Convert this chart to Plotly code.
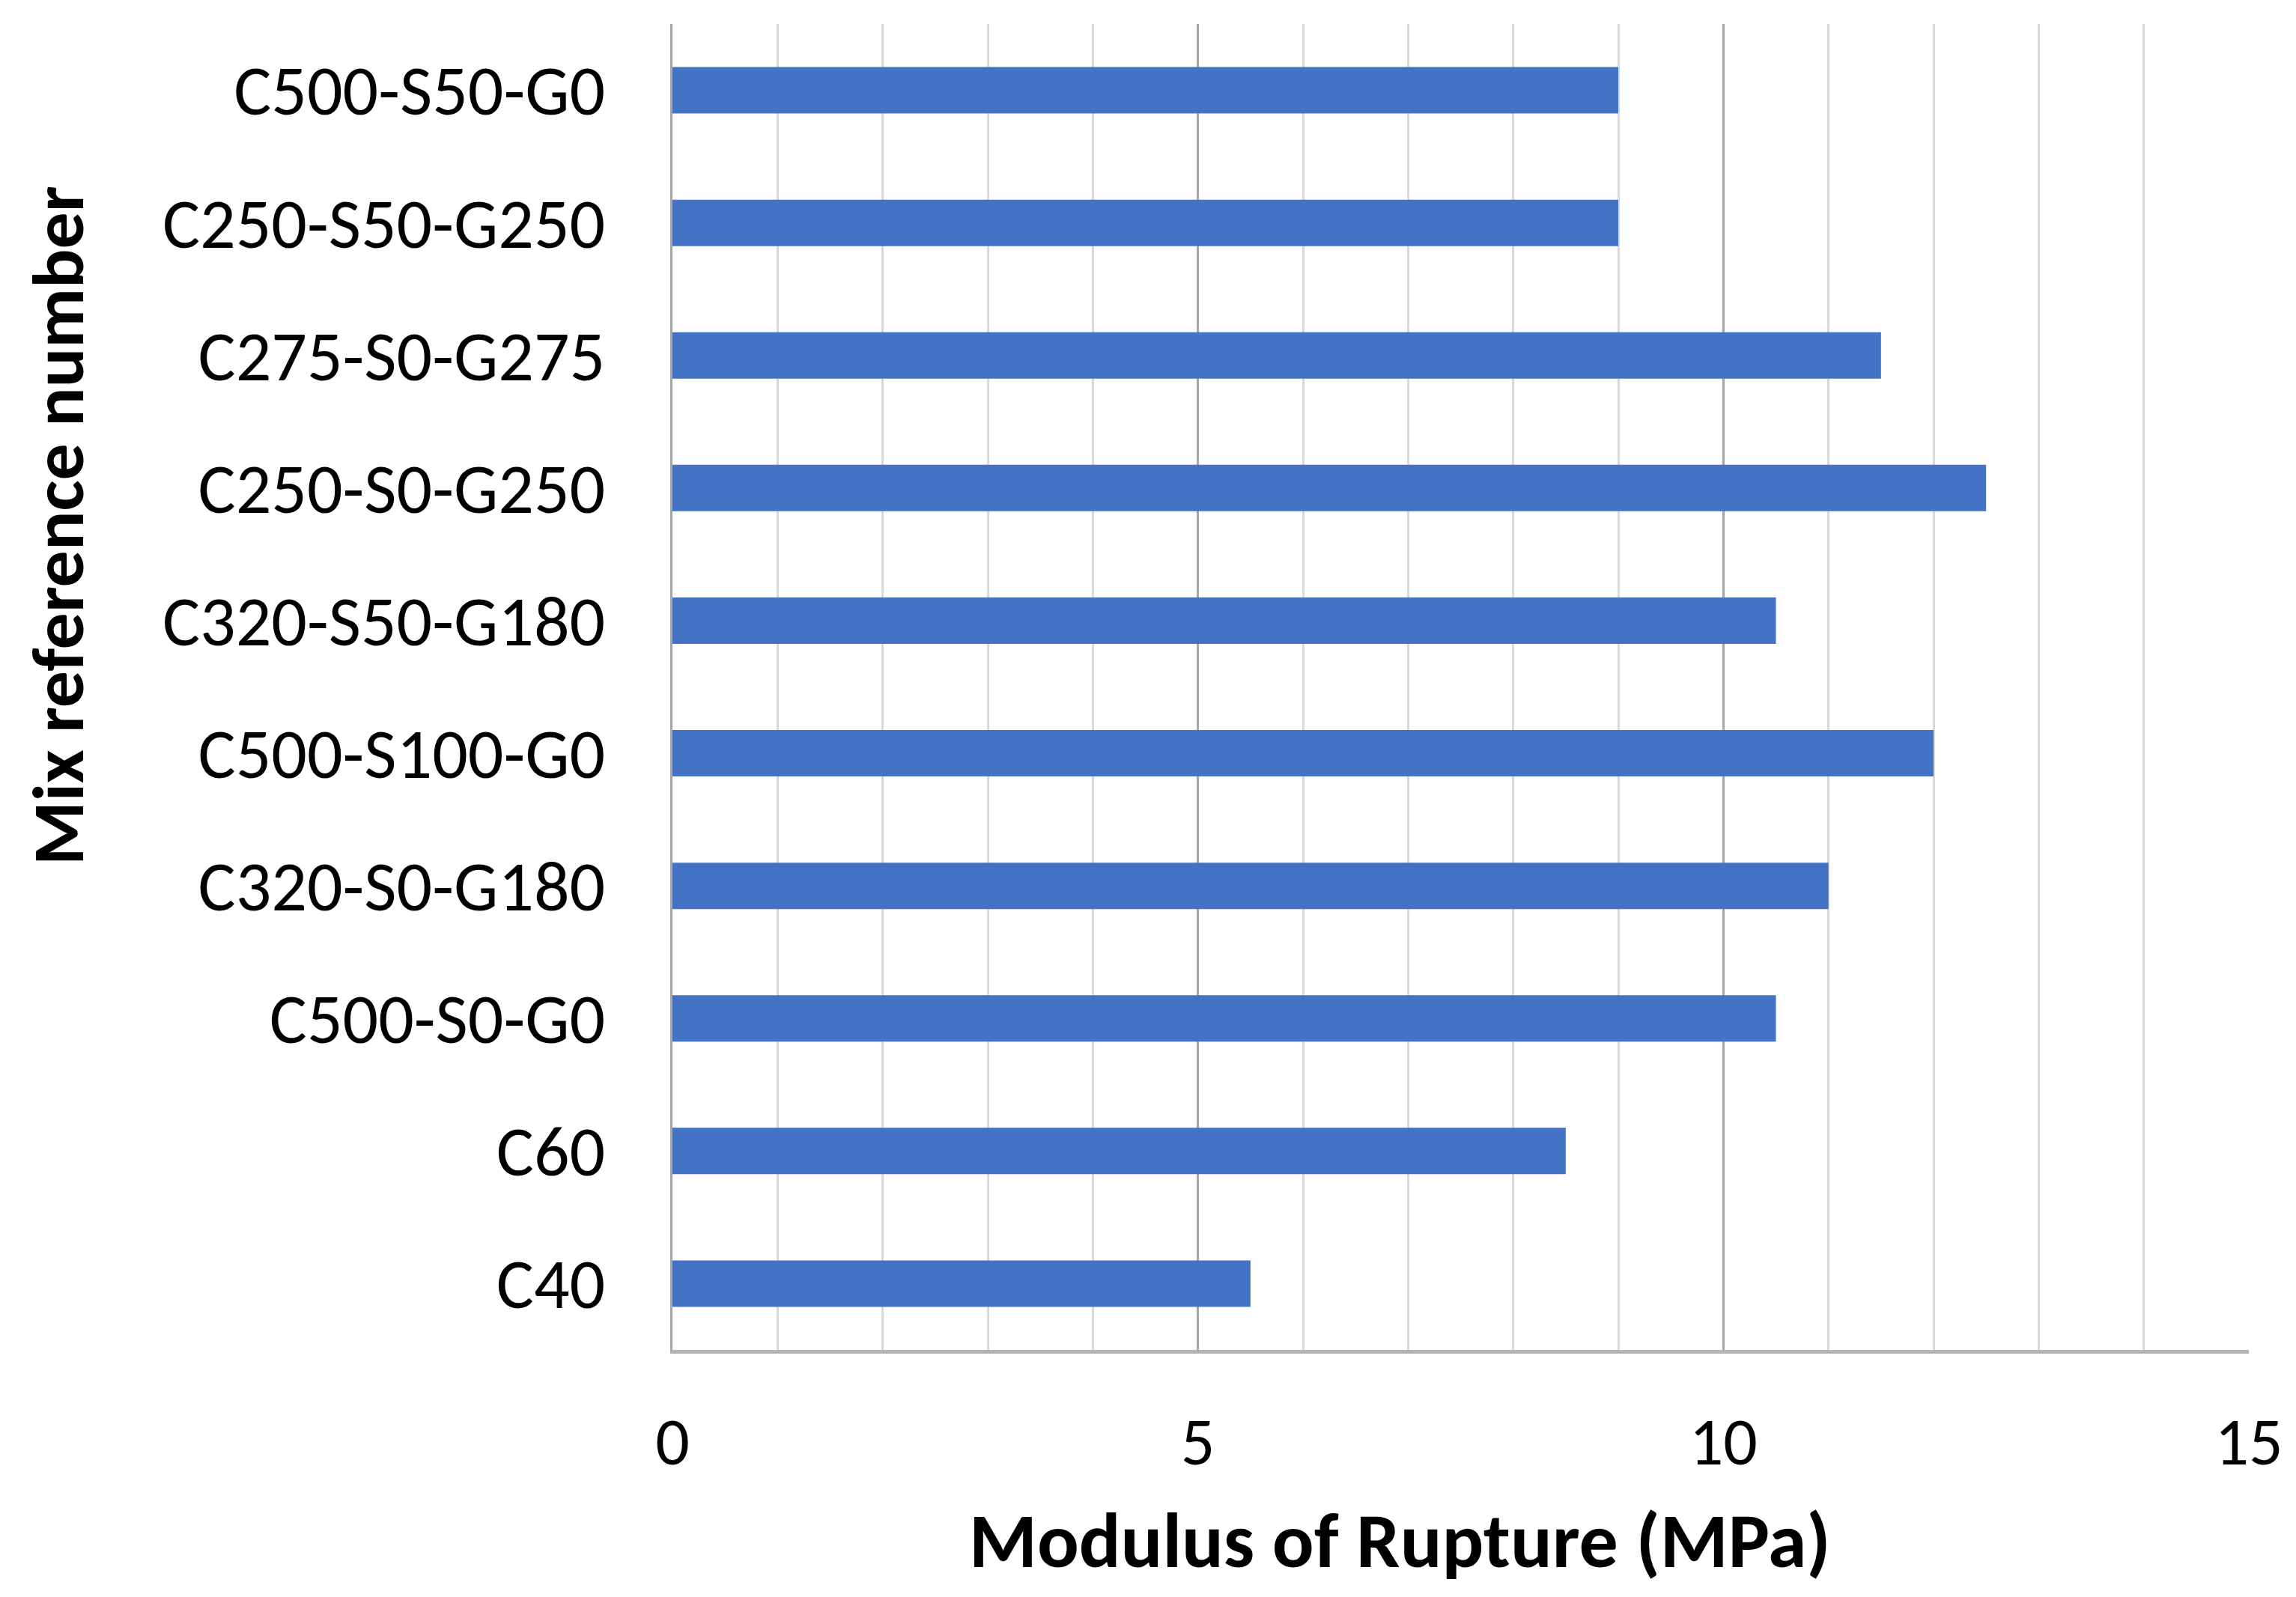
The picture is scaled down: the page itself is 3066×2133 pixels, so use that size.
import plotly.graph_objects as go

categories = ["C40", "C60", "C500-S0-G0", "C320-S0-G180", "C500-S100-G0",
              "C320-S50-G180", "C250-S0-G250", "C275-S0-G275", "C250-S50-G250", "C500-S50-G0"]
mor_values = [5.5, 8.5, 10.5, 11.0, 12.0, 10.5, 12.5, 11.5, 9.0, 9.0]
x_ticks = [0, 5, 10, 15]

# page body has an 8px default margin; work in figure coordinates
OFF = 8
W, H = 3066 - OFF, 2133 - OFF
L, T = 898 - OFF, 32 - OFF
R, B = 3066 - 3003, 2133 - 1803
pw = W - L - R
ph = H - T - B

FONT = "Carlito, 'Liberation Sans Narrow', Lato, sans-serif"

fig = go.Figure(go.Bar(
    x=mor_values, y=categories, orientation="h",
    marker=dict(color="#4472C4", line=dict(width=0)),
    width=0.35,
))

fig.update_layout(
    width=W, height=H,
    margin=dict(l=L, r=R, t=T, b=B, pad=0),
    plot_bgcolor="white", paper_bgcolor="white",
    showlegend=False,
    font=dict(family=FONT, color="black", size=90),
)
fig.update_xaxes(
    range=[0, 15], tickvals=x_ticks, ticktext=[str(v) for v in x_ticks],
    showgrid=True, gridcolor="#a6a6a6", gridwidth=3,
    minor=dict(dtick=1, showgrid=True, gridcolor="#d9d9d9", gridwidth=3),
    zeroline=False,
    showline=True, linecolor="#b4b4b4", linewidth=5, mirror=False,
    ticks="", ticklabelstandoff=40,
    tickfont=dict(family=FONT, size=90, color="black"),
)
fig.update_yaxes(
    categoryorder="array", categoryarray=categories,
    showgrid=False, zeroline=False,
    showline=True, linecolor="#a6a6a6", linewidth=3,
    ticks="", ticklabelstandoff=68,
    tickfont=dict(family=FONT, size=94, color="black"),
)

fig.add_annotation(
    text="<b>Mix reference number</b>", textangle=-90,
    xref="paper", yref="paper",
    x=(78 - OFF - L) / pw, y=(H - B - (702 - OFF)) / ph,
    xanchor="center", yanchor="middle", showarrow=False,
    font=dict(family=FONT, size=98, color="black"),
)
fig.add_annotation(
    text="<b>Modulus of Rupture (MPa)</b>",
    xref="paper", yref="paper",
    x=(1869 - OFF - L) / pw, y=-((2057 - OFF) - (H - B)) / ph,
    xanchor="center", yanchor="middle", showarrow=False,
    font=dict(family=FONT, size=104, color="black"),
)

fig.write_html("out.html")
